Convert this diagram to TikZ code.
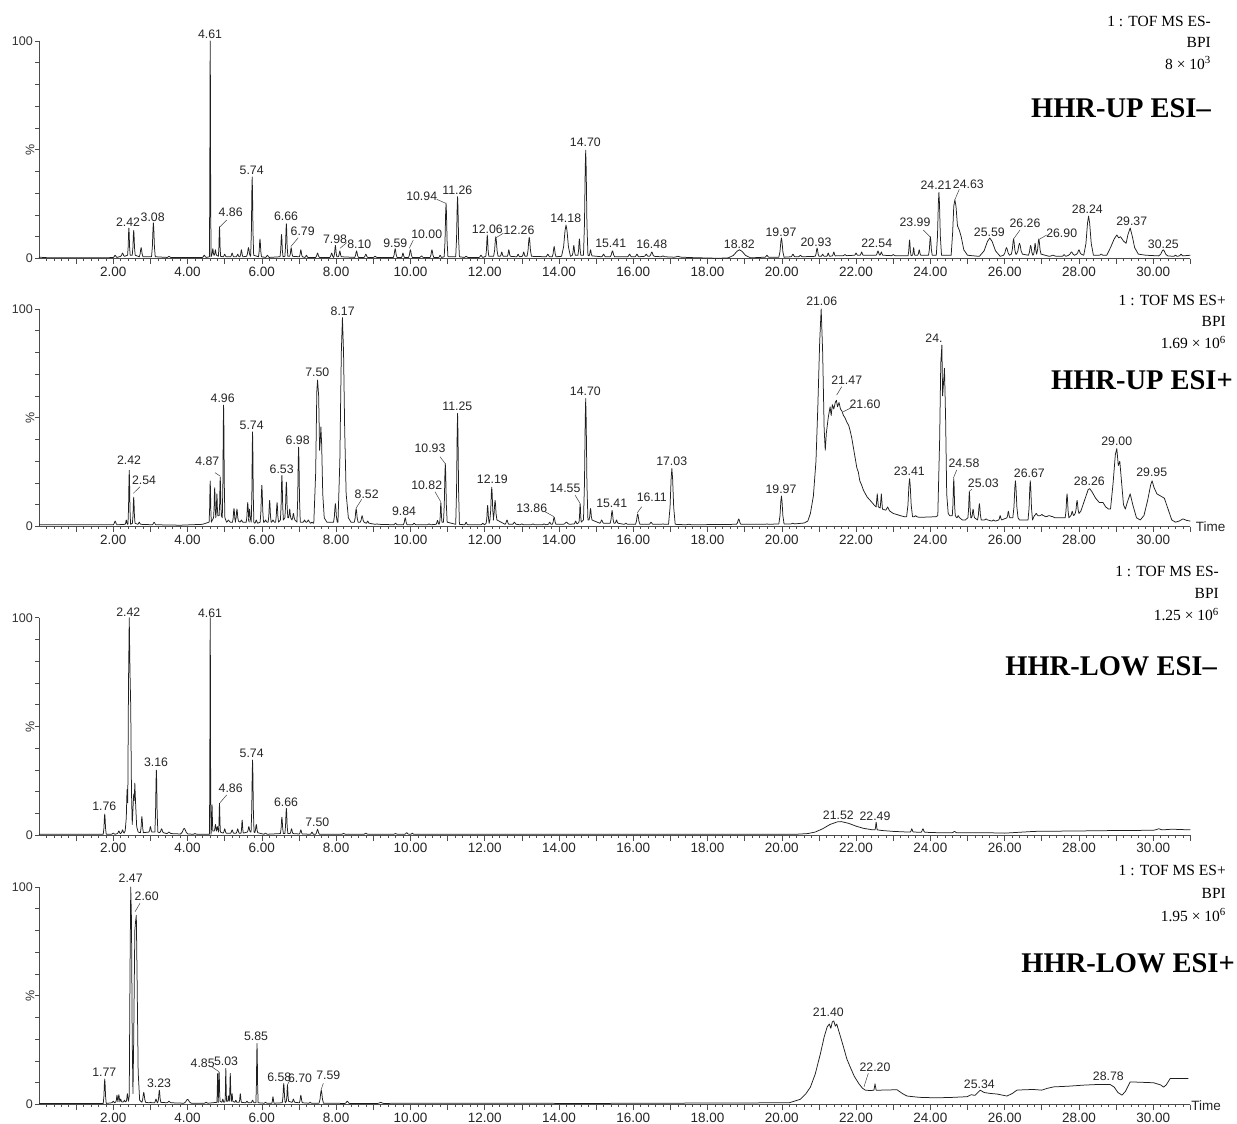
\documentclass[tikz,border=0pt]{standalone}
\usepackage{fontspec}
\setmainfont{Liberation Serif}
\newfontfamily\arialf{Liberation Sans}
\newcounter{labc}
\newcounter{ldc}
\tikzset{
  trace/.style={draw=black!88, line width=0.75pt, line join=round},
  axisline/.style={draw=black!70, line width=0.6pt},
  plabel/.style={font=\arialf\fontsize{12.3}{13}\selectfont, text=black!85, inner sep=0pt},
  ticklabel/.style={font=\arialf\fontsize{13.5}{14}\selectfont, text=black!85, inner sep=0pt},
  ylab/.style={font=\arialf\fontsize{12.5}{13}\selectfont, text=black!80, inner sep=0pt},
  leader/.style={draw=black!75, line width=0.5pt},
  info/.style={font=\fontsize{15.5}{16}\selectfont, anchor=east, inner sep=0pt},
  bigtitle/.style={font=\bfseries\fontsize{28.5}{30}\selectfont, anchor=east, inner sep=0pt},
}
\newcommand\pk{-- ({\tm-\ww},\bb) -- ({\tm-0.55*\ww},{\bb+0.3*(\hh-\bb)}) -- ({\tm-0.22*\ww},{\bb+0.82*(\hh-\bb)}) -- (\tm,\hh) -- ({\tm+0.22*\ww},{\bb+0.82*(\hh-\bb)}) -- ({\tm+0.55*\ww},{\bb+0.3*(\hh-\bb)}) -- ({\tm+\ww},\bb)}
\newcommand\panelaxes[1]{%
  \draw[axisline] (0,100) -- (0,0) -- (31,0);
  \foreach \yy in {0,10,...,100} \draw[axisline] (0,\yy) -- ++(-4pt,0pt);
  \foreach \ii in {1,...,155} \draw[axisline] ({\ii/5},0) -- ++(0pt,-2.8pt);
  \foreach \ii in {1,...,31} \draw[axisline] (\ii,0) -- ++(0pt,-5.5pt);
  \foreach \ii in {2,4,...,30} \node[ticklabel] (#1tk\ii) at (\ii,0) [yshift=-13pt] {\ii.00};
  \node[ylab, anchor=east] (#1hund) at (0,100) [xshift=-6pt] {100};
  \node[ylab, anchor=east] (#1zero) at (0,0) [xshift=-6pt] {0};
}
\newcommand\plab[2]{\stepcounter{labc}\node[plabel] (lab\thelabc) at (#1) {#2};}
\newcommand\lead[2]{\stepcounter{ldc}\coordinate (ls\theldc) at (#1);\coordinate (le\theldc) at (#2);\draw[leader] (ls\theldc) -- (le\theldc);}
\begin{document}
\begin{tikzpicture}[x=1pt,y=-1pt]
\useasboundingbox (0,0) rectangle (1237,1124);
\fill[white] (0,0) rectangle (1237,1124);

% ================= Panel 1 =================
\begin{scope}[shift={(39pt,-258.5pt)}, x=37.14pt, y=2.176pt]
\panelaxes{a}
\draw[trace] (0,0.6) -- (0.3,0.3) -- (1.9,0.4)
 \foreach \tm/\hh/\ww/\bb in {2.05/1.5/0.05/0.5, 2.25/2.5/0.05/1, 2.42/14/0.035/1.5, 2.55/13/0.04/1.5, 2.75/5/0.05/0.8, 3.08/16.4/0.05/0.8, 3.5/1/0.05/0.5, 4.45/1.5/0.05/0.5, 4.61/100/0.022/0.8, 4.68/4.5/0.03/1.5, 4.75/4/0.03/1.5, 4.86/14.6/0.03/1, 5.0/2/0.04/0.8, 5.2/2.5/0.04/0.8, 5.35/2/0.04/0.8, 5.45/4/0.04/0.8, 5.64/5/0.05/1, 5.74/37.5/0.04/1.5, 5.95/9/0.04/0.8, 6.15/1.5/0.05/0.5, 6.53/11/0.04/0.8, 6.66/16/0.04/1, 6.79/5/0.04/1, 7.05/4/0.04/0.8, 7.2/1.5/0.04/0.5, 7.5/2.5/0.05/0.5, 7.88/2.5/0.05/0.5, 7.98/6/0.04/0.8, 8.10/3.5/0.04/0.8, 8.55/3.5/0.05/0.5, 8.8/2/0.05/0.5, 9.05/1/0.05/0.5, 9.59/4.5/0.05/0.5, 9.8/2.5/0.04/0.5, 10.0/4/0.05/0.5, 10.3/1.2/0.05/0.5, 10.58/4/0.05/0.5, 10.8/1.5/0.04/0.5, 10.96/25.5/0.05/0.8, 11.27/28.4/0.05/0.8, 11.5/1/0.05/0.5, 11.9/1.5/0.05/0.5, 12.07/10.8/0.04/1, 12.3/10/0.06/1, 12.46/3/0.04/1, 12.65/4/0.04/1, 12.9/2/0.04/0.8, 13.05/3/0.04/1, 13.2/9.8/0.06/1, 13.7/2/0.05/0.8, 13.87/5.5/0.05/0.8, 14.19/15.4/0.12/1, 14.4/6/0.04/1.5, 14.55/9/0.04/1.5, 14.72/49.8/0.06/1.5, 14.85/4/0.04/1.2, 15.2/2/0.05/0.8, 15.44/3.5/0.06/0.8, 15.9/2/0.05/0.8, 16.1/2/0.05/0.8, 16.35/2/0.05/1, 16.5/3/0.06/1, 16.8/1.2/0.05/0.8, 17.2/1/0.1/0.6}{\pk}
 -- (17.6,0.4) -- (18.3,0.1)
 \foreach \tm/\hh/\ww/\bb in {18.86/4/0.3/0.3, 19.6/1.5/0.05/0.6, 19.99/9.4/0.07/0.6, 20.3/2/0.05/0.8, 20.5/1.5/0.05/0.8, 20.95/4.8/0.05/1, 21.1/2/0.04/1, 21.25/2.5/0.04/1, 21.4/3/0.04/1.2, 21.7/1.8/0.05/1.3, 22.0/2.5/0.04/1.5, 22.15/3/0.04/1.5, 22.59/3.5/0.05/1.5, 22.68/3/0.04/1.5, 23.0/1.8/0.05/1.3, 23.44/8.5/0.04/1.3, 23.55/5/0.03/1.5, 23.7/4/0.04/1.5, 24.0/10/0.05/1.5, 24.23/30.4/0.07/1.5}{\pk}
 -- (24.56,1.5) -- (24.6,12) -- (24.63,24) -- (24.66,26.9) -- (24.69,24) -- (24.73,15) -- (24.78,13) -- (24.83,10) -- (24.9,4) -- (25.0,1.5) -- (25.3,1)
 \foreach \tm/\hh/\ww/\bb in {25.6/9.4/0.28/1, 26.05/5/0.08/1.5, 26.24/9/0.06/2, 26.4/7/0.08/2, 26.7/6/0.06/1.5, 26.82/7/0.04/2, 26.92/9/0.06/2, 27.3/1.5/0.1/1, 27.6/1.8/0.05/1, 27.8/3/0.08/1.5, 28.0/4/0.06/2, 28.26/19.5/0.13/1.5, 28.6/2/0.05/1.5}{\pk}
 -- (28.75,1.5) -- (28.85,5) -- (28.95,9) -- (29.02,10.8) -- (29.07,9.5) -- (29.12,10) -- (29.2,8) -- (29.27,7) -- (29.32,11) -- (29.38,14) -- (29.44,10) -- (29.5,5) -- (29.6,2) -- (29.8,1.5)
 \foreach \tm/\hh/\ww/\bb in {30.27/4/0.12/1.2, 30.6/1.5/0.05/1, 30.75/2/0.05/1.2}{\pk} -- (31,1.5);
\end{scope}

% ================= Panel 2 =================
\begin{scope}[shift={(39pt,-526.5pt)}, x=37.14pt, y=2.176pt]
\panelaxes{b}
\draw[trace] (0,0.8) -- (1.95,0.8)
 \foreach \tm/\hh/\ww/\bb in {2.05/2.5/0.05/0.8, 2.35/3/0.03/1, 2.43/25.8/0.035/1, 2.55/13.5/0.035/1.5, 2.7/2/0.04/1, 3.1/2/0.05/0.8}{\pk}
 -- (3.8,0.6) -- (4.4,1)
 \foreach \tm/\hh/\ww/\bb in {4.61/20.9/0.03/2, 4.73/17.8/0.03/4, 4.79/15/0.025/5, 4.88/22.7/0.03/5, 4.97/55.8/0.035/4, 5.1/3/0.05/2, 5.25/8.3/0.04/2, 5.33/8/0.04/2.5, 5.45/3/0.04/2, 5.62/11/0.04/2, 5.67/8/0.03/3, 5.75/43.5/0.035/2, 5.85/3/0.04/1.5, 6.0/19/0.045/2, 6.1/3/0.04/2, 6.21/12/0.04/2, 6.3/3/0.04/2, 6.41/11/0.04/2, 6.54/23.5/0.04/3, 6.66/20.4/0.04/4, 6.75/8/0.03/4, 6.85/6/0.04/3, 6.99/36.5/0.045/2, 7.15/3/0.04/2, 7.25/3/0.04/2, 7.35/2/0.04/1.5}{\pk}
 -- (7.4,2) -- (7.45,25) -- (7.48,62) -- (7.5,67.3) -- (7.53,60) -- (7.555,35) -- (7.575,40) -- (7.59,45.8) -- (7.61,38) -- (7.64,15) -- (7.68,4) -- (7.75,2)
 \foreach \tm/\hh/\ww/\bb in {7.8/2/0.04/2, 7.98/10.5/0.05/2}{\pk}
 -- (8.05,2) -- (8.1,30) -- (8.14,80) -- (8.17,96) -- (8.2,80) -- (8.23,45) -- (8.27,15) -- (8.33,4) -- (8.4,2)
 \foreach \tm/\hh/\ww/\bb in {8.54/8.2/0.05/2, 8.7/5/0.05/2, 8.85/2.5/0.04/1.5, 9.1/1.2/0.05/1, 9.6/1.5/0.05/0.8, 9.86/4/0.05/0.8, 10.1/1.5/0.05/0.8, 10.5/1.2/0.05/0.8, 10.73/2.8/0.04/1, 10.82/11/0.03/2, 10.94/29/0.05/2, 11.27/52/0.05/1, 11.5/2/0.04/0.8, 11.95/1.5/0.05/0.8, 12.08/9.7/0.04/1.5, 12.19/18/0.05/3, 12.28/12/0.05/3, 12.6/3/0.05/1, 12.8/2/0.05/1, 13.0/1.2/0.05/0.8, 13.3/1.2/0.05/0.8, 13.6/1.2/0.05/0.8, 13.75/2/0.04/1, 13.87/4.3/0.05/1, 14.2/2/0.08/1, 14.45/2.5/0.04/1.2, 14.57/10.5/0.03/2, 14.72/58.8/0.06/3, 14.85/8.3/0.04/3, 15.15/3/0.05/1.5, 15.43/7.4/0.05/1.5, 15.55/3/0.04/1.5, 15.8/1.5/0.05/1, 16.12/5.8/0.06/1, 16.48/2/0.05/1, 16.8/1.2/0.05/1, 17.04/26.6/0.09/1, 17.5/1/0.1/0.8, 18.84/3.5/0.06/1, 19.6/1.2/0.05/1, 19.99/14/0.07/1.2, 20.3/1.5/0.05/1.2}{\pk}
 -- (20.6,1.6) -- (20.7,2.5) -- (20.77,6) -- (20.85,14) -- (20.92,30) -- (20.97,55) -- (21.02,85) -- (21.06,100) -- (21.1,80) -- (21.14,45) -- (21.17,35) -- (21.2,43) -- (21.25,50) -- (21.3,55) -- (21.33,51) -- (21.36,56) -- (21.4,54) -- (21.44,57) -- (21.47,58) -- (21.5,55) -- (21.54,57) -- (21.58,54) -- (21.62,53) -- (21.66,51) -- (21.7,50) -- (21.75,48) -- (21.8,46.5) -- (21.84,44) -- (21.88,41) -- (21.93,36) -- (21.97,32) -- (22.02,27) -- (22.06,25) -- (22.1,21) -- (22.15,19) -- (22.2,16.6) -- (22.3,13.5) -- (22.38,12) -- (22.48,10) -- (22.54,9) -- (22.57,15) -- (22.6,9) -- (22.65,8.5) -- (22.68,15) -- (22.71,8) -- (22.8,7.5) -- (22.85,9) -- (22.9,7.2) -- (23.0,6) -- (23.1,5.5) -- (23.19,5) -- (23.3,4.5)
 \foreach \tm/\hh/\ww/\bb in {23.44/22/0.08/4.5, 23.6/5/0.04/4.5}{\pk}
 -- (23.7,4.2) -- (24.15,4.5)
 -- (24.2,5) -- (24.25,40) -- (24.28,75) -- (24.31,83.4) -- (24.33,60) -- (24.35,65) -- (24.38,72.7) -- (24.41,50) -- (24.44,15) -- (24.48,6) -- (24.52,5)
 \foreach \tm/\hh/\ww/\bb in {24.63/22/0.04/5, 24.75/5/0.04/4, 24.9/3/0.04/3, 25.05/15.8/0.04/4, 25.15/8/0.04/4, 25.32/10.5/0.05/3, 25.5/3.5/0.05/3, 25.7/3/0.05/2.5, 25.88/5/0.04/3, 26.1/7/0.04/4, 26.29/21/0.07/4, 26.45/3/0.05/3, 26.69/21/0.06/3, 26.85/6/0.05/5, 27.0/5.5/0.05/5, 27.2/5/0.1/4.5, 27.4/4/0.05/4, 27.68/15/0.05/4, 27.82/7/0.04/5, 27.95/12/0.05/6}{\pk}
 -- (28.05,7) -- (28.15,12) -- (28.25,17) -- (28.29,17.4) -- (28.35,16) -- (28.45,13) -- (28.55,11) -- (28.65,11) -- (28.72,9) -- (28.8,8)
 -- (28.85,8) -- (28.92,20) -- (28.98,33) -- (29.02,35.8) -- (29.06,28) -- (29.1,30) -- (29.14,22) -- (29.2,10) -- (29.25,8) -- (29.3,11) -- (29.38,15) -- (29.45,10) -- (29.55,4) -- (29.65,3)
 -- (29.75,5) -- (29.85,12) -- (29.93,19) -- (29.97,21) -- (30.02,18) -- (30.1,15) -- (30.2,14) -- (30.3,13) -- (30.4,8) -- (30.5,3) -- (30.6,2) -- (30.7,2.5) -- (30.8,3.5) -- (30.9,2.8) -- (31,2.5);
\end{scope}

% ================= Panel 3 =================
\begin{scope}[shift={(39pt,-835.3pt)}, x=37.14pt, y=2.176pt]
\panelaxes{c}
\draw[trace] (0,0.5) -- (1.65,0.5)
 \foreach \tm/\hh/\ww/\bb in {1.77/9.8/0.04/0.5, 2.0/1/0.05/0.5, 2.15/2/0.04/0.8, 2.25/2.5/0.04/1}{\pk}
 -- (2.32,2) -- (2.35,8) -- (2.37,21) -- (2.39,15) -- (2.41,70) -- (2.43,100) -- (2.45,75) -- (2.47,59) -- (2.49,20) -- (2.51,5) -- (2.53,12) -- (2.55,19) -- (2.565,16) -- (2.58,24) -- (2.6,15) -- (2.63,4) -- (2.67,1.5)
 \foreach \tm/\hh/\ww/\bb in {2.77/8.6/0.04/1.2, 3.0/4/0.04/1.5, 3.16/30/0.04/1.5, 3.3/3/0.05/1.2, 3.5/1.5/0.06/0.8, 3.91/3.2/0.1/0.6, 4.2/0.8/0.05/0.5, 4.61/100/0.02/0.5, 4.66/14/0.02/2, 4.75/5/0.03/2, 4.8/4/0.03/2, 4.86/14.7/0.025/1.5, 5.0/3/0.04/1, 5.2/2.5/0.04/1, 5.35/3/0.04/1, 5.47/7/0.03/1, 5.65/4/0.04/1.5, 5.75/34.6/0.04/1.5, 5.85/5/0.04/1.2, 6.1/1/0.05/0.5, 6.54/8.3/0.04/0.8, 6.66/12.4/0.04/0.8, 6.8/3/0.04/0.8, 7.05/2.5/0.04/0.6, 7.35/1.5/0.04/0.5, 7.5/2.8/0.05/0.5, 8.2/0.9/0.05/0.5, 8.8/1/0.05/0.5, 9.6/0.8/0.05/0.5, 9.9/1.2/0.05/0.5, 10.05/1/0.04/0.5}{\pk}
 -- (12,0.5) -- (20.4,0.5) -- (20.7,0.8) -- (20.9,1.5) -- (21.1,3) -- (21.3,5) -- (21.5,6.2) -- (21.6,6.3) -- (21.8,5.5) -- (22.0,4.2) -- (22.2,3.2) -- (22.45,2.5)
 \foreach \tm/\hh/\ww/\bb in {22.54/6/0.03/2.5}{\pk}
 -- (22.7,2.2) -- (23.0,1.8) -- (23.4,1.5)
 \foreach \tm/\hh/\ww/\bb in {23.5/3/0.04/1.5, 23.8/3/0.05/1.4}{\pk}
 -- (24.2,1.2)
 \foreach \tm/\hh/\ww/\bb in {24.65/1.8/0.06/1.2}{\pk}
 -- (25.5,1.2) -- (26.0,1.0) -- (26.8,1.8) -- (28,2) -- (29,2.2) -- (30,2.3)
 \foreach \tm/\hh/\ww/\bb in {30.15/3/0.1/2.5}{\pk}
 -- (30.5,2.8) -- (31,2.5);
\end{scope}

% ================= Panel 4 =================
\begin{scope}[shift={(39pt,-1104.5pt)}, x=37.14pt, y=2.176pt]
\panelaxes{d}
\draw[trace] (0,0.5) -- (1.65,0.5)
 \foreach \tm/\hh/\ww/\bb in {1.77/11.7/0.04/0.5, 2.0/1.5/0.04/0.8, 2.1/4.3/0.03/1.2, 2.15/4.5/0.03/1.5, 2.2/2.5/0.03/1.2, 2.3/2/0.03/1.2, 2.38/5/0.03/1.5}{\pk}
 -- (2.43,4) -- (2.45,60) -- (2.47,100) -- (2.49,85) -- (2.51,30) -- (2.53,5) -- (2.55,30) -- (2.58,80) -- (2.6,84) -- (2.62,87) -- (2.64,60) -- (2.67,15) -- (2.71,2)
 \foreach \tm/\hh/\ww/\bb in {2.82/5.6/0.05/1, 3.0/1/0.04/0.8, 3.15/2.5/0.04/0.8, 3.24/6.6/0.04/1, 3.5/1.5/0.06/0.8, 4.0/2.4/0.1/0.6, 4.5/1/0.05/0.6, 4.81/14.3/0.02/1, 4.85/14.8/0.025/1.5, 4.95/2.5/0.03/1, 5.03/16.6/0.02/1.5, 5.1/4/0.02/1.5, 5.15/14.3/0.025/1.5, 5.2/5/0.02/1.5, 5.3/2/0.03/1, 5.42/5/0.03/1, 5.6/1.5/0.04/0.8, 5.75/2/0.04/0.8, 5.87/28/0.03/0.8, 6.1/1/0.04/0.6, 6.3/3.6/0.03/0.6, 6.59/9.7/0.04/0.8, 6.69/9/0.03/1.5, 6.85/2.5/0.04/1, 7.05/4.3/0.04/0.8, 7.3/1/0.04/0.6, 7.6/6.6/0.06/0.6, 8.3/1.5/0.06/0.5, 9.2/1/0.08/0.5}{\pk}
 -- (10,0.6) -- (15,0.5) -- (20.2,0.8) -- (20.5,2.4) -- (20.65,5) -- (20.77,8) -- (20.9,14) -- (21.04,23.4) -- (21.14,31) -- (21.22,35.6) -- (21.28,37) -- (21.32,35) -- (21.36,38) -- (21.4,38.4) -- (21.44,36) -- (21.48,37) -- (21.53,34) -- (21.6,30) -- (21.66,26.5) -- (21.75,21) -- (21.84,17.3) -- (21.95,13) -- (22.07,9.7) -- (22.17,7.5) -- (22.25,6.6) -- (22.4,6.4) -- (22.48,6.6) -- (22.51,9.5) -- (22.54,6.6) -- (22.65,6.6) -- (22.9,6.7) -- (23.1,6.8) -- (23.25,5) -- (23.37,3.9) -- (23.7,3.3) -- (24.09,3.1) -- (24.5,3.2) -- (24.99,3.6) -- (25.1,4.5) -- (25.2,4.2) -- (25.34,6.6) -- (25.45,5.5) -- (25.61,5.1) -- (25.8,4.8) -- (26.06,3.9) -- (26.2,5) -- (26.33,6.6) -- (26.55,6.8) -- (26.78,6.9) -- (27.0,6.6) -- (27.14,7.4) -- (27.32,8.1) -- (27.7,8.4) -- (28.12,8.9) -- (28.5,9.2) -- (28.84,9.2) -- (28.95,8) -- (29.05,5.5) -- (29.16,4.3) -- (29.25,6) -- (29.38,10.4) -- (29.7,10.2) -- (30.01,10) -- (30.2,9) -- (30.28,8) -- (30.35,9) -- (30.46,12) -- (30.7,12) -- (30.95,12);
\end{scope}

% ---------- y labels "%" ----------
\node[ylab, rotate=90] (pc1) at (30,150) {\%};
\node[ylab, rotate=90] (pc2) at (30,417.7) {\%};
\node[ylab, rotate=90] (pc3) at (30,726.5) {\%};
\node[ylab, rotate=90] (pc4) at (30,995.7) {\%};

% ---------- Time labels ----------
\node[ticklabel] (time2) at (1210.7,526.7) {Time};
\node[ticklabel] (time4) at (1206,1105.7) {Time};

% ---------- info blocks ----------
\node[info] (i1a) at (1211,21) {1 : TOF MS ES-};
\node[info] (i1b) at (1211,42) {BPI};
\node[info] (i1c) at (1211,63) {8 × 10\textsuperscript{3}};
\node[bigtitle] (t1) at (1211,108) {HHR-UP ESI\textendash};
\node[info] (i2a) at (1226,300) {1 : TOF MS ES+};
\node[info] (i2b) at (1226,321.7) {BPI};
\node[info] (i2c) at (1226,342.7) {1.69 × 10\textsuperscript{6}};
\node[bigtitle] (t2) at (1233,380) {HHR-UP ESI+};
\node[info] (i3a) at (1219,571.7) {1 : TOF MS ES-};
\node[info] (i3b) at (1219,593.3) {BPI};
\node[info] (i3c) at (1219,614.3) {1.25 × 10\textsuperscript{6}};
\node[bigtitle] (t3) at (1217,666.7) {HHR-LOW ESI\textendash};
\node[info] (i4a) at (1226,870) {1 : TOF MS ES+};
\node[info] (i4b) at (1226,893.3) {BPI};
\node[info] (i4c) at (1226,915) {1.95 × 10\textsuperscript{6}};
\node[bigtitle] (t4) at (1235,963.3) {HHR-LOW ESI+};

% ---------- Panel 1 peak labels ----------
\plab{128,222}{2.42}
\plab{152.7,217}{3.08}
\plab{210,34}{4.61}
\plab{230.7,212}{4.86}
\plab{251.7,170.7}{5.74}
\plab{286,216.7}{6.66}
\plab{302.7,231.7}{6.79}
\plab{335,239.3}{7.98}
\plab{359.3,244.3}{8.10}
\plab{395.3,243.3}{9.59}
\plab{426.7,234.3}{10.00}
\plab{421.7,196.7}{10.94}
\plab{457.3,190}{11.26}
\plab{487.3,229.3}{12.06}
\plab{519,230.7}{12.26}
\plab{565.7,218.3}{14.18}
\plab{585.3,142.7}{14.70}
\plab{610.7,243.3}{15.41}
\plab{651.7,244.3}{16.48}
\plab{739.3,244.3}{18.82}
\plab{781,232.3}{19.97}
\plab{816,242.3}{20.93}
\plab{876.7,243.3}{22.54}
\plab{915,222.7}{23.99}
\plab{936,185.7}{24.21}
\plab{968.3,184.3}{24.63}
\plab{989.3,232.3}{25.59}
\plab{1025,223.3}{26.26}
\plab{1061.7,233.3}{26.90}
\plab{1087.3,209}{28.24}
\plab{1131.7,221}{29.37}
\plab{1163.3,244.3}{30.25}
\lead{226.7,220}{220,226.7}
\lead{298.3,237.7}{290.7,246.7}
\lead{346.7,242.7}{340,248.3}
\lead{413.3,240}{409.3,248.3}
\lead{436.7,199.3}{445.7,203.3}
\lead{503.3,233.3}{495,238.3}
\lead{923.3,230}{930,236.7}
\lead{959.3,189.3}{954.7,200}
\lead{1020,230}{1013.3,239.3}
\lead{1046.7,235}{1039.3,239.3}

% ---------- Panel 2 peak labels ----------
\plab{129,460}{2.42}
\plab{144,480.7}{2.54}
\plab{207.3,461.7}{4.87}
\plab{222.7,398.3}{4.96}
\plab{251.7,425}{5.74}
\plab{281.7,469.3}{6.53}
\plab{297.7,440.7}{6.98}
\plab{317.3,372.7}{7.50}
\plab{342.7,311.7}{8.17}
\plab{366.7,494}{8.52}
\plab{404,511}{9.84}
\plab{430,448.7}{10.93}
\plab{426.7,485.7}{10.82}
\plab{457.3,406.7}{11.25}
\plab{492.3,479.3}{12.19}
\plab{531.7,508.3}{13.86}
\plab{565,488.3}{14.55}
\plab{585.3,391.7}{14.70}
\plab{611.7,503.3}{15.41}
\plab{651.7,497.3}{16.11}
\plab{671.7,461}{17.03}
\plab{781,489}{19.97}
\plab{821.7,301.7}{21.06}
\plab{846.7,380}{21.47}
\plab{865,404}{21.60}
\plab{909.3,471.7}{23.41}
\plab{934,338.3}{24.}
\plab{964,463.3}{24.58}
\plab{983.3,483.3}{25.03}
\plab{1029.3,473.3}{26.67}
\plab{1089.3,481}{28.26}
\plab{1116.7,441.7}{29.00}
\plab{1151.7,472.7}{29.95}
\lead{140,486.7}{133.3,493.3}
\lead{215,472.7}{220,476}
\lead{361.7,499.3}{356,508.3}
\lead{440,456.7}{445,463.3}
\lead{435,491.7}{440.7,501.7}
\lead{545,511.7}{554,516.7}
\lead{575,495}{580,503.3}
\lead{641.7,506.7}{637.3,512.7}
\lead{841.7,386.7}{836.7,395}
\lead{853.3,406.7}{843.3,411.7}
\lead{956.7,470}{953.3,478.3}
\lead{971.7,489.3}{969,491.7}

% ---------- Panel 3 peak labels ----------
\plab{104.3,806.7}{1.76}
\plab{128.3,611.7}{2.42}
\plab{156,762.3}{3.16}
\plab{210,613.3}{4.61}
\plab{230.7,788.3}{4.86}
\plab{251.7,753.3}{5.74}
\plab{286,802.3}{6.66}
\plab{317.3,822.3}{7.50}
\plab{838.3,815}{21.52}
\plab{875,816}{22.49}
\lead{226.7,795}{220,802.7}

% ---------- Panel 4 peak labels ----------
\plab{104.3,1072.3}{1.77}
\plab{130.7,878.3}{2.47}
\plab{146.7,896.7}{2.60}
\plab{159,1083.3}{3.23}
\plab{202.7,1063.3}{4.85}
\plab{226,1061.7}{5.03}
\plab{256,1036.7}{5.85}
\plab{279.3,1077.3}{6.58}
\plab{300,1078.3}{6.70}
\plab{328.3,1075.7}{7.59}
\plab{828.3,1012.7}{21.40}
\plab{875,1067.3}{22.20}
\plab{979.3,1084.3}{25.34}
\plab{1108.3,1076.7}{28.78}
\lead{140,903.3}{135,911.7}
\lead{211.7,1066.7}{219,1071.7}
\lead{290,1080}{287.3,1085}
\lead{323.3,1083.3}{321,1090}
\lead{868.3,1073.3}{864,1086.7}
\end{tikzpicture}
\end{document}
